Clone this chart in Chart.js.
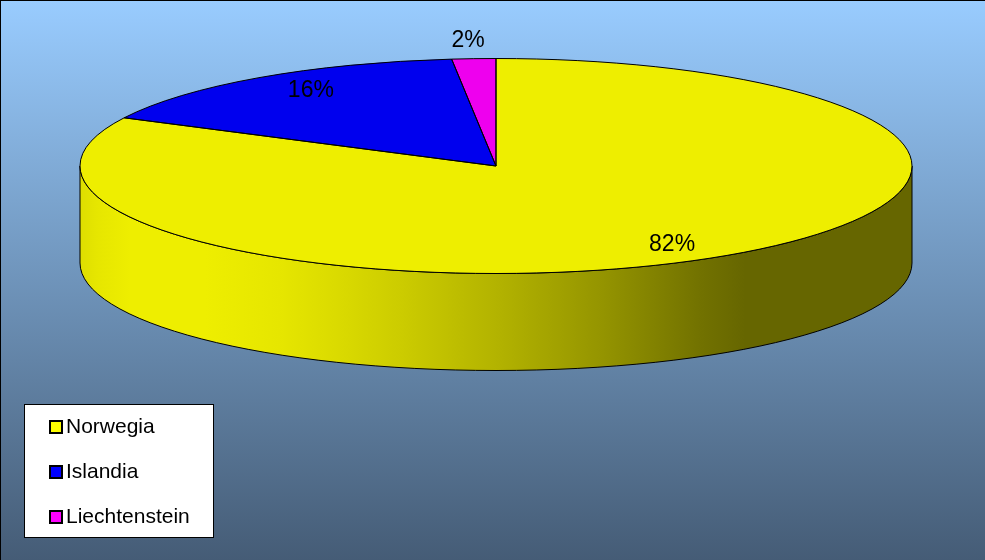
<!DOCTYPE html>
<html>
<head>
<meta charset="utf-8">
<title>Pie</title>
<script src="https://cdn.jsdelivr.net/npm/chart.js@4"></script>
<style>
  html, body { margin: 0; padding: 0; background: #fff; }
  canvas { display: block; }
</style>
</head>
<body>
<canvas id="pieChart" width="985" height="560"></canvas>
<script>
// Chart data
const categories = ['Norwegia', 'Islandia', 'Liechtenstein'];
const shares = [82.4, 15.9, 1.7];
const topColors = ['#EEEE00', '#0000EE', '#EE00EE'];
const legendColors = ['#FFFF00', '#0000FF', '#FF00FF'];

// Where the flattened pie sits on the page
const pieX = 496, pieY = 166, pieRx = 416, pieRy = 107.5, pieDepth = 97;
// Label position, as a fraction of the ellipse radii along the slice's middle angle
const labelReach = [[0.806, 0.86], [0.781, 0.85], [1.26, 1.17]];
const fontName = '"Liberation Sans", Arial, sans-serif';

// Shading of the rim, left to right
const rimStops = [
  [0, '#DEDE00'], [0.02, '#E6E600'], [0.06, '#EEEE00'], [0.15, '#EEEE00'], [0.24, '#E6E600'],
  [0.312, '#DADA00'], [0.385, '#CCCC00'], [0.505, '#B2B200'], [0.625, '#959500'],
  [0.745, '#727200'], [0.8, '#666600'], [1, '#666600']
];

// Pie elements come out of Chart.js, the plugin squashes them into an ellipse
const flatPie = {
  id: 'flatPie',
  beforeDraw(chart) {
    const { ctx, width, height } = chart;
    const bg = ctx.createLinearGradient(0, 0, 0, height);
    bg.addColorStop(0, '#99CCFF');
    bg.addColorStop(1, '#455C76');
    ctx.fillStyle = bg;
    ctx.fillRect(0, 0, width, height);
    ctx.fillStyle = '#000';
    ctx.fillRect(0, 0, width, 1);
    ctx.fillRect(0, 0, 1, height);
  },
  beforeDatasetsDraw(chart) {
    const { ctx } = chart;
    const arcs = chart.getDatasetMeta(0).data;

    // rim: only the part of each slice that faces the front
    const rim = ctx.createLinearGradient(pieX - pieRx, 0, pieX + pieRx, 0);
    rimStops.forEach(s => rim.addColorStop(s[0], s[1]));
    arcs.forEach(arc => {
      const from = Math.max(arc.startAngle, 0);
      const to = Math.min(arc.endAngle, Math.PI);
      if (to <= from) return;
      ctx.beginPath();
      ctx.ellipse(pieX, pieY, pieRx, pieRy, 0, from, to);
      ctx.ellipse(pieX, pieY + pieDepth, pieRx, pieRy, 0, to, from, true);
      ctx.closePath();
      ctx.fillStyle = rim;
      ctx.fill();
      ctx.strokeStyle = '#000';
      ctx.lineWidth = 1;
      ctx.stroke();
    });

    const first = arcs[0];
    ctx.save();
    ctx.translate(pieX, pieY);
    ctx.scale(pieRx / first.outerRadius, pieRy / first.outerRadius);
    ctx.translate(-first.x, -first.y);
  },
  afterDatasetsDraw(chart) {
    const { ctx } = chart;
    ctx.restore();
    const arcs = chart.getDatasetMeta(0).data;

    // slice outlines, 1px all round
    arcs.forEach(arc => {
      ctx.beginPath();
      ctx.moveTo(pieX, pieY);
      ctx.ellipse(pieX, pieY, pieRx, pieRy, 0, arc.startAngle, arc.endAngle);
      ctx.closePath();
      ctx.strokeStyle = '#000';
      ctx.lineWidth = 1;
      ctx.stroke();
    });

    // percent labels
    ctx.fillStyle = '#000';
    ctx.font = '23px ' + fontName;
    ctx.textAlign = 'center';
    ctx.textBaseline = 'middle';
    arcs.forEach((arc, i) => {
      const mid = (arc.startAngle + arc.endAngle) / 2;
      const x = pieX + Math.cos(mid) * pieRx * labelReach[i][0];
      const y = pieY + Math.sin(mid) * pieRy * labelReach[i][1];
      ctx.fillText(Math.round(shares[i]) + '%', x, y);
    });

    // legend box
    ctx.fillStyle = '#fff';
    ctx.fillRect(24.5, 404.5, 189, 133);
    ctx.strokeStyle = '#000';
    ctx.lineWidth = 1;
    ctx.strokeRect(24.5, 404.5, 189, 133);
    ctx.font = '21px ' + fontName;
    ctx.textAlign = 'left';
    categories.forEach((name, i) => {
      const rowY = 427 + i * 45;
      ctx.fillStyle = legendColors[i];
      ctx.fillRect(50, rowY - 6, 12, 12);
      ctx.strokeStyle = '#000';
      ctx.lineWidth = 2;
      ctx.strokeRect(50, rowY - 6, 12, 12);
      ctx.fillStyle = '#000';
      ctx.fillText(name, 66, rowY);
    });
  }
};

new Chart(document.getElementById('pieChart').getContext('2d'), {
  type: 'pie',
  data: {
    labels: categories,
    datasets: [{
      data: shares,
      backgroundColor: topColors,
      borderWidth: 0,
      clip: false
    }]
  },
  options: {
    responsive: false,
    animation: false,
    layout: { padding: 0 },
    plugins: {
      legend: { display: false },
      tooltip: { enabled: false }
    }
  },
  plugins: [flatPie]
});
</script>
</body>
</html>
